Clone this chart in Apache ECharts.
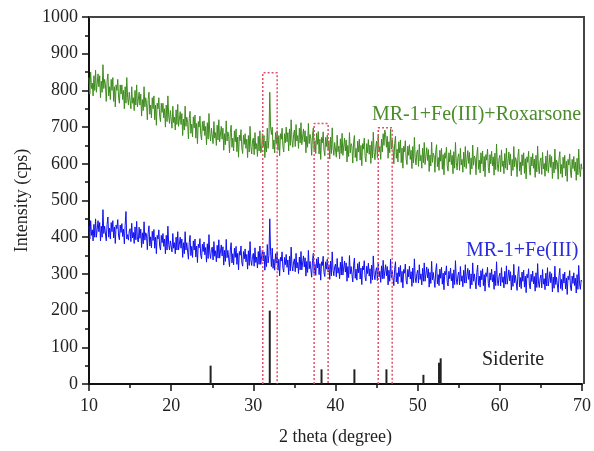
<!DOCTYPE html>
<html>
<head>
<meta charset="utf-8">
<script src="https://cdn.jsdelivr.net/npm/echarts@6/dist/echarts.min.js"></script>
<style>html,body{margin:0;padding:0;background:#fff}#c{width:594px;height:451px}</style>
</head>
<body>
<div id="c"></div>
<script>
// Sampling grid of the scans (2 theta, degrees)
var thetaStart = 10.0;
var thetaStep = 0.1;

// MR-1+Fe(III)+Roxarsone intensities (cps), 10.0 .. 70.0 step 0.1 (one row per degree)
var roxarsone = [
835,790,850,805,820,785,840,800,855,795,
800,845,810,840,780,825,795,870,805,830,
815,770,825,845,785,810,775,830,800,835,
770,810,755,815,800,830,780,765,815,790,
815,775,800,750,810,765,835,780,760,795,
795,750,810,765,780,745,800,760,815,755,
750,795,760,790,730,775,745,810,755,780,
765,720,775,795,735,760,725,780,750,785,
720,760,705,765,750,780,730,715,765,740,
765,725,750,700,760,715,785,730,710,745,
742,697,757,712,727,692,747,707,762,702,
697,742,707,737,677,722,692,757,702,727,
713,668,723,743,683,708,673,728,698,733,
670,710,655,715,700,730,680,665,715,690,
717,677,702,652,712,667,737,682,662,697,
700,655,715,670,685,650,705,665,720,660,
657,702,667,697,637,682,652,717,662,687,
675,630,685,705,645,670,635,690,660,695,
633,673,618,678,663,693,643,628,678,653,
682,642,667,617,677,632,702,647,627,662,
670,625,685,640,655,620,675,635,690,630,
637,682,647,677,617,662,632,697,642,667,
795,700,680,700,640,665,630,685,655,690,
637,677,622,682,667,697,647,632,682,657,
700,660,685,635,695,650,720,665,645,680,
692,647,707,662,677,642,697,657,712,652,
650,695,660,690,630,675,645,710,655,680,
668,623,678,698,638,663,628,683,653,688,
627,667,612,672,657,687,637,622,672,647,
678,638,663,613,673,628,698,643,623,658,
663,618,678,633,648,613,668,628,683,623,
625,670,635,665,605,650,620,685,630,655,
647,602,657,677,617,642,607,662,632,667,
610,650,595,655,640,670,620,605,655,630,
666,626,651,601,661,616,686,631,611,646,
662,617,677,632,647,612,667,632,682,650,
692,680,645,675,615,660,630,695,640,665,
645,600,655,675,615,640,605,660,630,665,
603,643,588,648,633,663,613,598,648,623,
652,612,637,587,647,602,672,617,597,632,
638,593,653,608,623,588,643,603,658,598,
599,644,609,639,579,624,594,659,604,629,
622,577,632,652,592,617,582,637,607,642,
585,625,570,630,615,645,595,580,630,605,
638,598,623,573,633,588,658,603,583,618,
627,582,642,597,612,577,632,592,647,587,
591,636,601,631,571,616,586,651,596,621,
615,570,625,645,585,610,575,630,600,635,
580,620,565,625,610,640,590,575,625,600,
634,594,619,569,629,584,654,599,579,614,
623,578,638,593,608,573,628,588,643,583,
587,632,597,627,567,612,582,647,592,617,
610,565,620,640,580,605,570,625,595,630,
574,614,559,619,604,634,584,569,619,594,
628,588,613,563,623,578,648,593,573,608,
616,571,631,586,601,566,621,581,636,576,
580,625,590,620,560,605,575,640,585,610,
603,558,613,633,573,598,563,618,588,623,
567,607,552,612,597,627,577,562,612,587,
620,580,605,555,615,570,640,585,565,600,
585
];

// MR-1+Fe(III) intensities (cps), 10.0 .. 70.0 step 0.1 (one row per degree)
var feIII = [
430,395,445,405,420,390,435,400,450,400,
405,445,415,440,390,430,400,475,410,430,
430,390,435,455,400,425,395,440,415,445,
398,428,383,433,423,448,403,393,433,413,
437,402,422,382,432,470,395,407,392,417,
423,388,438,398,413,383,428,393,443,393,
387,427,397,422,372,412,382,442,392,412,
406,366,411,431,376,401,371,416,391,421,
370,400,355,405,395,420,375,365,405,385,
410,375,395,355,405,365,430,380,365,390,
395,360,410,370,385,355,400,365,415,365,
360,400,370,395,345,385,355,415,365,385,
380,340,385,405,350,375,345,390,365,395,
346,376,331,381,371,396,351,341,381,361,
387,352,372,332,382,342,407,357,342,367,
373,338,388,348,363,333,378,343,393,343,
339,379,349,374,324,364,334,394,344,364,
360,320,365,385,330,355,325,370,345,375,
326,356,311,361,351,376,331,321,361,341,
368,333,353,313,363,323,388,338,323,348,
356,321,371,331,346,316,361,326,376,326,
325,365,335,360,310,350,320,380,330,350,
450,360,320,370,315,340,310,355,330,360,
310,340,295,345,335,360,315,305,345,325,
353,318,338,298,348,308,373,323,308,333,
341,306,356,316,331,301,346,311,361,311,
309,349,319,344,294,334,304,364,314,334,
331,291,336,356,301,326,296,341,316,346,
298,328,283,333,323,348,303,293,333,313,
340,305,325,285,335,295,360,310,295,320,
327,292,342,302,317,287,332,297,347,297,
295,335,305,330,280,320,290,350,300,320,
318,278,323,343,288,313,283,328,303,333,
286,316,271,321,311,336,291,281,321,301,
329,294,314,274,324,284,349,299,284,309,
317,282,332,292,307,277,322,287,337,287,
285,325,295,320,270,310,280,340,290,310,
308,268,313,333,278,303,273,318,293,323,
277,307,262,312,302,327,282,272,312,292,
321,286,306,266,316,276,341,291,276,301,
310,275,325,285,300,270,315,280,330,280,
279,319,289,314,264,304,274,334,284,304,
303,263,308,328,273,298,268,313,288,318,
272,302,257,307,297,322,277,267,307,287,
316,281,301,261,311,271,336,286,271,296,
305,270,320,280,295,265,310,275,325,275,
275,315,285,310,260,300,270,330,280,300,
299,259,304,324,269,294,264,309,284,314,
268,298,253,303,293,318,273,263,303,283,
313,278,298,258,308,268,333,283,268,293,
302,267,317,277,292,262,307,272,322,272,
271,311,281,306,256,296,266,326,276,296,
295,255,300,320,265,290,260,305,280,310,
264,294,249,299,289,314,269,259,299,279,
308,273,293,253,303,263,328,278,263,288,
297,262,312,272,287,257,302,267,317,267,
266,306,276,301,251,291,261,321,271,291,
290,250,295,315,260,285,255,300,275,305,
259,289,244,294,284,309,264,254,294,274,
303,268,288,248,298,258,323,273,258,283,
280
];

// Siderite reference pattern
var sideritePos = [24.8, 32.0, 38.3, 42.3, 46.2, 50.7, 52.6, 52.8];
var sideriteInt = [50, 200, 40, 40, 40, 25, 58, 70];

// Highlight boxes (2 theta range and top intensity)
var boxLeft = [31.15, 37.4, 45.2];
var boxRight = [32.9, 39.1, 46.9];
var boxTop = [848, 710, 698];

// Axis ticks
var xTicks = [10, 20, 30, 40, 50, 60, 70];
var yTicks = [0, 100, 200, 300, 400, 500, 600, 700, 800, 900, 1000];

function pairs(vals) {
  return vals.map(function (v, i) {
    return [+(thetaStart + i * thetaStep).toFixed(2), v];
  });
}

var FONT = '"Liberation Serif", "DejaVu Serif", serif';
var chart = echarts.init(document.getElementById('c'), null, { renderer: 'canvas' });

var series = [
  {
    type: 'line', name: 'MR-1+Fe(III)+Roxarsone', data: pairs(roxarsone),
    showSymbol: false, symbol: 'none', animation: false, sampling: null,
    lineStyle: { color: '#3f8c1f', width: 1 }, z: 3
  },
  {
    type: 'line', name: 'MR-1+Fe(III)', data: pairs(feIII),
    showSymbol: false, symbol: 'none', animation: false, sampling: null,
    lineStyle: { color: '#1010f0', width: 1 }, z: 3
  },
  {
    type: 'bar', name: 'Siderite',
    data: sideritePos.map(function (p, i) { return [p, sideriteInt[i]]; }),
    barWidth: 2, itemStyle: { color: '#222' }, animation: false, z: 4
  }
];

boxLeft.forEach(function (l, i) {
  series.push({
    type: 'line', data: [[l, 0], [l, boxTop[i]], [boxRight[i], boxTop[i]], [boxRight[i], 0]],
    showSymbol: false, symbol: 'none', animation: false, silent: true,
    lineStyle: { color: '#e0506a', width: 1.5, type: [2, 2] }, z: 5
  });
});

chart.setOption({
  backgroundColor: '#fff',
  animation: false,
  grid: { left: 89, right: 10, top: 17, bottom: 67, show: false },
  xAxis: {
    type: 'value', min: xTicks[0], max: xTicks[xTicks.length - 1], interval: 10,
    name: '2 theta (degree)', nameLocation: 'middle', nameGap: 44,
    nameTextStyle: { fontFamily: FONT, fontSize: 18, color: '#222' },
    axisLine: { show: true, onZero: false, lineStyle: { color: '#111', width: 2 } },
    axisTick: { show: true, length: 7, inside: false, lineStyle: { color: '#111', width: 1.5 } },
    minorTick: { show: true, splitNumber: 2, length: 4, lineStyle: { color: '#111', width: 1.5 } },
    axisLabel: { fontFamily: FONT, fontSize: 18, color: '#222', margin: 13,
      formatter: function (v) { return xTicks.indexOf(v) >= 0 ? String(v) : ''; } },
    splitLine: { show: false }
  },
  yAxis: {
    type: 'value', min: yTicks[0], max: yTicks[yTicks.length - 1], interval: 100,
    name: 'Intensity (cps)', nameLocation: 'middle', nameGap: 57, nameRotate: 90,
    nameTextStyle: { fontFamily: FONT, fontSize: 18, color: '#222' },
    axisLine: { show: true, onZero: false, lineStyle: { color: '#111', width: 2 } },
    axisTick: { show: true, length: 7, inside: false, lineStyle: { color: '#111', width: 1.5 } },
    minorTick: { show: true, splitNumber: 2, length: 4, lineStyle: { color: '#111', width: 1.5 } },
    axisLabel: { fontFamily: FONT, fontSize: 18, color: '#222', margin: 11,
      formatter: function (v) { return yTicks.indexOf(v) >= 0 ? String(v) : ''; } },
    splitLine: { show: false }
  },
  graphic: [
    { type: 'polyline', shape: { points: [[89, 17], [584, 17], [584, 384]] },
      style: { stroke: '#444', lineWidth: 2, fill: null }, z: 10 },
    { type: 'text', left: 372, top: 105,
      style: { text: 'MR-1+Fe(III)+Roxarsone', font: '20px ' + FONT, fill: '#4a8c2a' } },
    { type: 'text', left: 466, top: 241,
      style: { text: 'MR-1+Fe(III)', font: '20px ' + FONT, fill: '#2a2ae0' } },
    { type: 'text', left: 482, top: 350,
      style: { text: 'Siderite', font: '20px ' + FONT, fill: '#222' } }
  ],
  series: series
});
</script>
</body>
</html>
